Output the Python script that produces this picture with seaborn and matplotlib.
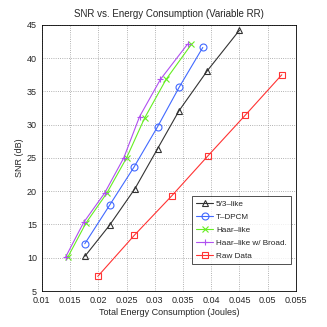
import matplotlib
matplotlib.use("Agg")
import matplotlib.pyplot as plt
import seaborn as sns

# energy (Joules) and SNR (dB)
e_53 = [0.0176, 0.0220, 0.0265, 0.0305, 0.0343, 0.0393, 0.0450]
snr_53 = [10.2, 14.9, 20.4, 26.4, 32.1, 38.1, 44.2]

e_tdpcm = [0.0176, 0.0220, 0.0263, 0.0305, 0.0343, 0.0385]
snr_tdpcm = [12.1, 17.9, 23.6, 29.7, 35.6, 41.6]

e_haar = [0.0146, 0.0178, 0.0215, 0.0250, 0.0282, 0.0320, 0.0365]
snr_haar = [10.1, 15.2, 19.7, 25.0, 31.0, 36.8, 42.1]

e_broad = [0.0142, 0.0174, 0.0211, 0.0245, 0.0273, 0.0310, 0.0358]
snr_broad = [10.1, 15.3, 19.7, 25.0, 31.2, 36.8, 42.1]

e_raw = [0.0199, 0.0264, 0.0330, 0.0394, 0.0460, 0.0525]
snr_raw = [7.2, 13.4, 19.3, 25.3, 31.4, 37.5]

sns.set_style("white")
plt.rcParams["font.family"] = ["Liberation Sans", "DejaVu Sans"]

fig = plt.figure(figsize=(3.27, 3.27), dpi=100)
ax = fig.add_axes([0.128, 0.11, 0.777, 0.814])

series = [
    (e_53, snr_53, "5/3\u2013like", "#333333", "^"),
    (e_tdpcm, snr_tdpcm, "T\u2013DPCM", "#4169ff", "o"),
    (e_haar, snr_haar, "Haar\u2013like", "#66ee22", "x"),
    (e_broad, snr_broad, "Haar\u2013like w/ Broad.", "#b050f0", "+"),
    (e_raw, snr_raw, "Raw Data", "#ff3333", "s"),
]
for x, y, lab, col, mk in series:
    sns.lineplot(x=x, y=y, ax=ax, color=col, marker=mk, label=lab, lw=0.8,
                 markersize=5, markerfacecolor="none", markeredgecolor=col,
                 markeredgewidth=0.8, sort=False)

ax.set_xlim(0.01, 0.055)
ax.set_ylim(5, 45)
ax.set_xticks([0.01, 0.015, 0.02, 0.025, 0.03, 0.035, 0.04, 0.045, 0.05, 0.055])
ax.set_xticklabels(["0.01", "0.015", "0.02", "0.025", "0.03", "0.035", "0.04", "0.045", "0.05", "0.055"])
ax.set_yticks(range(5, 46, 5))
ax.tick_params(labelsize=6.5, length=2, direction="in")
ax.grid(True, linestyle=":", color="#999999", lw=0.6)
for s in ax.spines.values():
    s.set_color("black")
    s.set_linewidth(0.6)

ax.set_xlabel("Total Energy Consumption (Joules)", fontsize=6.5, labelpad=2)
ax.set_ylabel("SNR (dB)", fontsize=6.5, labelpad=2)
ax.set_title("SNR vs. Energy Consumption (Variable RR)", fontsize=7, pad=6)

leg = ax.legend(loc="upper left", bbox_to_anchor=(0.59, 0.357), fontsize=5.9, frameon=True,
                fancybox=False, edgecolor="black", handlelength=2.1, handletextpad=0.3,
                borderpad=0.55, labelspacing=0.62, borderaxespad=0)
leg.get_frame().set_linewidth(0.6)

fig.savefig("out.png", dpi=100)
